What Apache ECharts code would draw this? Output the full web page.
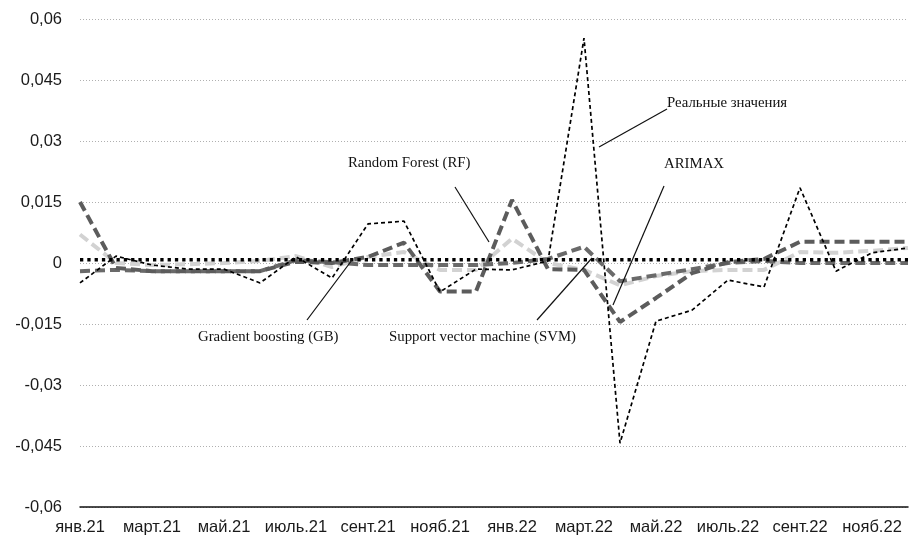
<!DOCTYPE html>
<html>
<head>
<meta charset="utf-8">
<script src="https://cdn.jsdelivr.net/npm/echarts@6/dist/echarts.min.js"></script>
<style>
  html, body { margin: 0; padding: 0; background: #fff; }
  #chart { width: 909px; height: 538px; }
</style>
</head>
<body>
<div id="chart"></div>
<script>
// Monthly observations, Jan 2021 – Dec 2022
const months = [
  'янв.21','февр.21','март.21','апр.21','май.21','июнь.21','июль.21','авг.21','сент.21','окт.21','нояб.21','дек.21',
  'янв.22','февр.22','март.22','апр.22','май.22','июнь.22','июль.22','авг.22','сент.22','окт.22','нояб.22','дек.22'
];

const actual = [-0.0049, 0.0017, -0.0005, -0.0015, -0.0015, -0.0049, 0.0015, -0.0037, 0.0096, 0.0103, -0.0071, -0.0015,
                -0.0017, 0.0005, 0.0553, -0.0443, -0.0143, -0.0116, -0.0042, -0.0059, 0.0185, -0.002, 0.0025, 0.0037];
const arimax = [0.015, -0.0012, -0.002, -0.002, -0.002, -0.002, 0.0003, 0.0, 0.0015, 0.005, -0.007, -0.007,
                0.0155, -0.0015, -0.0017, -0.0145, -0.0086, -0.0025, 0.0002, 0.001, 0.0052, 0.0052, 0.0052, 0.0052];
const rf     = [0.007, 0.0, -0.0005, -0.0003, 0.0, 0.0005, 0.0017, -0.001, 0.0015, 0.0027, -0.0017, -0.0017,
                0.006, 0.0, -0.0017, -0.0055, -0.0032, -0.002, -0.0017, -0.0017, 0.0027, 0.0025, 0.003, 0.0037];
const gb     = [-0.002, -0.0017, -0.002, -0.002, -0.002, -0.002, 0.0007, 0.0002, -0.0005, -0.0005, -0.0005, -0.0005,
                0.0, 0.001, 0.004, -0.0045, -0.003, -0.0015, 0.0, 0.0005, 0.0, 0.0, 0.0, 0.0];
const svm    = [0.0008, 0.0008, 0.0008, 0.0008, 0.0008, 0.0008, 0.0008, 0.0008, 0.0008, 0.0008, 0.0008, 0.0008,
                0.0008, 0.0008, 0.0008, 0.0008, 0.0008, 0.0008, 0.0008, 0.0008, 0.0008, 0.0008, 0.0008, 0.0008];

const yTickLabels = ['-0,06', '-0,045', '-0,03', '-0,015', '0', '0,015', '0,03', '0,045', '0,06'];

const chart = echarts.init(document.getElementById('chart'), null, { renderer: 'canvas' });

const serifFont = '"Liberation Serif", "Times New Roman", serif';
const sansFont = '"Liberation Sans", Arial, Helvetica, sans-serif';

function dashed(name, data, color, width, dash, z) {
  return {
    name: name,
    type: 'line',
    data: data,
    symbol: 'none',
    smooth: false,
    z: z,
    lineStyle: { color: color, width: width, type: dash, cap: 'butt' },
    emphasis: { disabled: true },
    animation: false
  };
}

// Annotation callouts: serif caption plus a thin leader line
function callout(text, tx, ty, x1, y1, x2, y2) {
  return [
    { type: 'text', left: tx, top: ty, z: 100,
      style: { text: text, font: '14.8px ' + serifFont, fill: '#111' } },
    { type: 'line', z: 100,
      shape: { x1: x1, y1: y1, x2: x2, y2: y2 },
      style: { stroke: '#111', lineWidth: 1.2 } }
  ];
}

const option = {
  backgroundColor: '#ffffff',
  animation: false,
  grid: { left: 80, right: 1, top: 19, bottom: 31, containLabel: false },
  xAxis: {
    type: 'category',
    data: months,
    boundaryGap: false,
    axisLine: { onZero: false, lineStyle: { color: '#111', width: 1.5 } },
    axisTick: { show: false },
    axisLabel: { interval: 1, color: '#1a1a1a', fontSize: 16.5, fontFamily: sansFont, margin: 12 },
    splitLine: { show: false }
  },
  yAxis: {
    type: 'value',
    min: -0.06,
    max: 0.06,
    interval: 0.015,
    axisLine: { show: false },
    axisTick: { show: false },
    axisLabel: {
      color: '#1a1a1a', fontSize: 16.5, fontFamily: sansFont, margin: 18,
      formatter: function (v, i) { return yTickLabels[i]; }
    },
    splitLine: { lineStyle: { color: '#b0b0b0', width: 1, type: [1, 2] } }
  },
  series: [
    dashed('Random Forest (RF)', rf, '#d2d2d2', 4, [10, 5], 2),
    dashed('Gradient boosting (GB)', gb, '#6a6a6a', 4, [10, 5], 3),
    dashed('ARIMAX', arimax, '#5c5c5c', 4, [10, 5], 4),
    dashed('Support vector machine (SVM)', svm, '#000000', 3.3, [3.3, 4], 5),
    dashed('Реальные значения', actual, '#000000', 1.7, [4, 3], 6)
  ],
  graphic: [].concat(
    callout('Реальные значения', 667, 96, 667, 109, 599, 147),
    callout('ARIMAX', 664, 157, 664, 186, 613, 305),
    callout('Random Forest (RF)', 348, 156, 455, 187, 489, 242),
    callout('Gradient boosting (GB)', 198, 330, 307, 320, 352, 260),
    callout('Support vector machine (SVM)', 389, 330, 537, 320, 592, 258)
  )
};

chart.setOption(option);
</script>
</body>
</html>
